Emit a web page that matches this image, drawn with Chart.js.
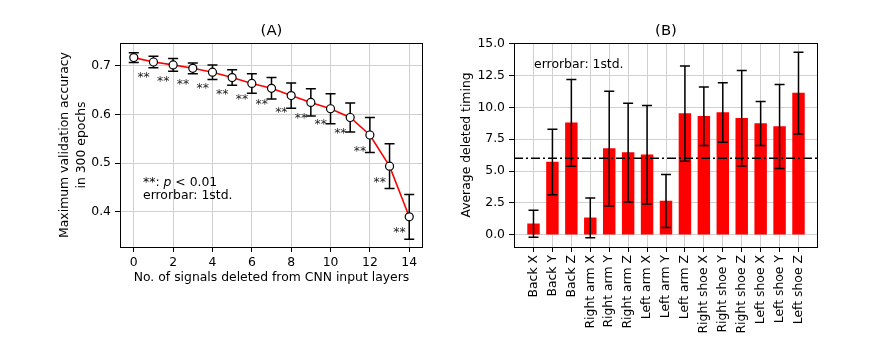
<!DOCTYPE html>
<html><head><meta charset="utf-8">
<script src="https://cdn.jsdelivr.net/npm/chart.js@4/dist/chart.umd.min.js"></script>
<style>
html,body{margin:0;padding:0;background:#fff;}
#wrap{position:relative;width:878px;height:349px;overflow:hidden;background:#fff;}
canvas{position:absolute;top:0;}
</style></head><body>
<div id="wrap">
<canvas id="cA" width="440" height="349" style="left:0px"></canvas>
<canvas id="cB" width="438" height="349" style="left:440px"></canvas>
</div>
<script>
// ---------- Panel (A) data ----------
const nDeleted = [0,1,2,3,4,5,6,7,8,9,10,11,12,13,14];
const accMean  = [0.717,0.708,0.702,0.695,0.687,0.676,0.664,0.654,0.639,0.625,0.612,0.594,0.558,0.494,0.390];
const accStd   = [0.010,0.012,0.013,0.011,0.015,0.016,0.020,0.022,0.026,0.028,0.031,0.030,0.036,0.046,0.046];
const sigX     = [0.5,1.5,2.5,3.5,4.5,5.5,6.5,7.5,8.5,9.5,10.5,11.5,12.5,13.5];
const sigY     = [0.683,0.676,0.669,0.662,0.650,0.639,0.628,0.612,0.600,0.587,0.569,0.533,0.469,0.365];
const xTicksA  = [0,2,4,6,8,10,12,14];
const yTicksA  = [0.4,0.5,0.6,0.7];

// ---------- Panel (B) data ----------
const sensorLabels = ['Back X','Back Y','Back Z','Right arm X','Right arm Y','Right arm Z','Left arm X','Left arm Y','Left arm Z','Right shoe X','Right shoe Y','Right shoe Z','Left shoe X','Left shoe Y','Left shoe Z'];
const timingMean = [0.85,5.71,8.78,1.32,6.76,6.44,6.28,2.64,9.51,9.30,9.60,9.14,8.73,8.49,11.12];
const timingStd  = [1.06,2.57,3.41,1.56,4.51,3.88,3.87,2.08,3.75,2.30,2.34,3.75,1.73,3.30,3.21];
const threshold  = 6.0;
const yTicksB    = [0,2.5,5,7.5,10,12.5,15];

const FS = 12.4;
const TFS = 14.9;
const FAM = "'DejaVu Sans', sans-serif";
Chart.defaults.font.family = FAM;
Chart.defaults.font.size = FS;
Chart.defaults.color = '#000';
const GRID = '#d0d0d0';

function frameAndTitle(title){
  return {
    id:'frame'+title,
    afterDraw(chart){
      const {ctx, chartArea:a} = chart;
      ctx.save();
      ctx.strokeStyle = '#000'; ctx.lineWidth = 1;
      ctx.strokeRect(Math.round(a.left)+0.5, Math.round(a.top)+0.5, Math.round(a.right-a.left)-1, Math.round(a.bottom-a.top));
      ctx.fillStyle = '#000';
      ctx.font = TFS + 'px ' + FAM;
      ctx.textAlign = 'center'; ctx.textBaseline = 'middle';
      ctx.fillText(title, (a.left+a.right)/2, a.top - 11.5);
      ctx.restore();
    }
  };
}

function drawErr(ctx, px, yTop, yBot, cap){
  ctx.beginPath();
  ctx.moveTo(px, yTop); ctx.lineTo(px, yBot);
  ctx.moveTo(px-cap, yTop); ctx.lineTo(px+cap, yTop);
  ctx.moveTo(px-cap, yBot); ctx.lineTo(px+cap, yBot);
  ctx.stroke();
}

const errA = {
  id:'errA',
  beforeDatasetsDraw(chart){
    const {ctx, scales:{x,y}} = chart;
    ctx.save(); ctx.strokeStyle='#000'; ctx.lineWidth=1.5;
    nDeleted.forEach((v,i)=>{
      drawErr(ctx, x.getPixelForValue(v), y.getPixelForValue(accMean[i]+accStd[i]), y.getPixelForValue(accMean[i]-accStd[i]), 5);
    });
    ctx.restore();
  },
  afterDatasetsDraw(chart){
    const {ctx, scales:{x,y}, chartArea:a} = chart;
    ctx.save();
    ctx.fillStyle = '#222';
    ctx.font = FS + 'px ' + FAM;
    ctx.textAlign='center'; ctx.textBaseline='alphabetic';
    sigX.forEach((sx,i)=>{
      ctx.fillText('**', x.getPixelForValue(sx), y.getPixelForValue(sigY[i]) + 0.59*FS);
    });
    ctx.fillStyle = '#000';
    ctx.textAlign='left'; ctx.textBaseline='middle';
    const tx = a.left + 0.076*(a.right-a.left);
    const y1 = a.top + 0.683*(a.bottom-a.top);
    const y2 = a.top + 0.750*(a.bottom-a.top);
    let cx = tx;
    const seg = (t, italic)=>{ ctx.font = (italic?'italic ':'') + FS + 'px ' + FAM; ctx.fillText(t, cx, y1); cx += ctx.measureText(t).width; };
    seg('**: ', false); seg('p', true); seg(' < 0.01', false);
    ctx.font = FS + 'px ' + FAM;
    ctx.fillText('errorbar: 1std.', tx, y2);
    ctx.restore();
  }
};

new Chart(document.getElementById('cA'), {
  type:'line',
  data:{ datasets:[{
    data: nDeleted.map((v,i)=>({x:v, y:accMean[i]})),
    borderColor:'#ff0000', borderWidth:1.6, tension:0,
    pointRadius:4, pointHoverRadius:4, pointBackgroundColor:'#ffffff', pointBorderColor:'#000000', pointBorderWidth:1.2
  }]},
  options:{
    responsive:false, animation:false, devicePixelRatio:1, events:[],
    layout:{padding:{left:0, top:43, right:17, bottom:0}},
    plugins:{legend:{display:false}, tooltip:{enabled:false}, title:{display:false}},
    scales:{
      x:{ type:'linear', min:-0.7, max:14.7,
        afterBuildTicks:s=>{ s.ticks = xTicksA.map(v=>({value:v})); },
        afterFit:s=>{ s.height = 102; },
        grid:{color:GRID, lineWidth:1, tickColor:'#000', tickLength:5},
        border:{display:false},
        ticks:{padding:3, maxRotation:0, color:'#000', callback:v=>String(v)},
        title:{display:true, text:'No. of signals deleted from CNN input layers', color:'#000', font:{size:FS, lineHeight:1.33}, padding:{top:0, bottom:62.5}}
      },
      y:{ type:'linear', min:0.328, max:0.747,
        afterBuildTicks:s=>{ s.ticks = yTicksA.map(v=>({value:v})); },
        afterFit:s=>{ s.width = 120; },
        grid:{color:GRID, lineWidth:1, tickColor:'#000', tickLength:5},
        border:{display:false},
        ticks:{padding:4, color:'#000', callback:v=>Number(v).toFixed(1)},
        title:{display:true, text:['Maximum validation accuracy','in 300 epochs'], color:'#000', font:{size:FS, lineHeight:1.33}, padding:{top:56.7, bottom:0}}
      }
    }
  },
  plugins:[errA, frameAndTitle('(A)')]
});

const errB = {
  id:'errB',
  afterDatasetsDraw(chart){
    const {ctx, scales:{x,y}, chartArea:a} = chart;
    ctx.save(); ctx.strokeStyle='#000'; ctx.lineWidth=1.5;
    sensorLabels.forEach((lab,i)=>{
      drawErr(ctx, x.getPixelForValue(i), y.getPixelForValue(timingMean[i]+timingStd[i]), y.getPixelForValue(timingMean[i]-timingStd[i]), 5);
    });
    const ty = y.getPixelForValue(threshold);
    ctx.setLineDash([9,3,2,3]);
    ctx.beginPath(); ctx.moveTo(a.left, ty); ctx.lineTo(a.right, ty); ctx.stroke();
    ctx.setLineDash([]);
    ctx.fillStyle='#000'; ctx.font = FS + 'px ' + FAM;
    ctx.textAlign='left'; ctx.textBaseline='middle';
    ctx.fillText('errorbar: 1std.', a.left + 0.066*(a.right-a.left), a.top + 0.108*(a.bottom-a.top));
    ctx.restore();
  }
};

new Chart(document.getElementById('cB'), {
  type:'bar',
  data:{ datasets:[{
    data: sensorLabels.map((lab,i)=>({x:i, y:timingMean[i]})),
    backgroundColor:'#ff0000', borderWidth:0, barThickness:11.8
  }]},
  options:{
    responsive:false, animation:false, devicePixelRatio:1, events:[],
    layout:{padding:{left:0, top:43, right:60, bottom:0}},
    plugins:{legend:{display:false}, tooltip:{enabled:false}, title:{display:false}},
    scales:{
      x:{ type:'linear', min:-1.03, max:15.03, offset:false,
        afterBuildTicks:s=>{ s.ticks = sensorLabels.map((lab,i)=>({value:i})); },
        afterFit:s=>{ s.height = 102; },
        grid:{color:GRID, lineWidth:1, tickColor:'#000', tickLength:5, offset:false},
        border:{display:false},
        ticks:{padding:3, autoSkip:false, minRotation:90, maxRotation:90, color:'#000', callback:v=>sensorLabels[v]}
      },
      y:{ type:'linear', min:-0.97, max:15.06,
        afterBuildTicks:s=>{ s.ticks = yTicksB.map(v=>({value:v})); },
        afterFit:s=>{ s.width = 74; },
        grid:{color:GRID, lineWidth:1, tickColor:'#000', tickLength:5},
        border:{display:false},
        ticks:{padding:4, color:'#000', callback:v=>Number(v).toFixed(1)},
        title:{display:true, text:'Average deleted timing', color:'#000', font:{size:FS, lineHeight:1.33}, padding:{top:18.5, bottom:0}}
      }
    }
  },
  plugins:[errB, frameAndTitle('(B)')]
});
</script>
</body></html>
